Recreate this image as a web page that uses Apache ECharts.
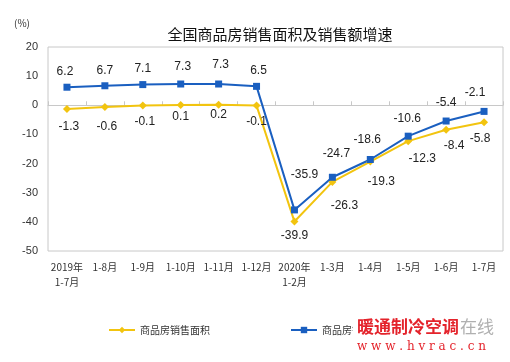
<!DOCTYPE html>
<html><head><meta charset="utf-8">
<script src="https://cdn.jsdelivr.net/npm/echarts@6/dist/echarts.min.js"></script>
<style>html,body{margin:0;padding:0;background:#fff;}#c{width:510px;height:362px;}</style>
</head><body><div id="c"></div>
<script>
const categories = ['2019年\n1-7月','1-8月','1-9月','1-10月','1-11月','1-12月','2020年\n1-2月','1-3月','1-4月','1-5月','1-6月','1-7月'];
const areaGrowth = [-1.3, -0.6, -0.1, 0.1, 0.2, -0.1, -39.9, -26.3, -19.3, -12.3, -8.4, -5.8];
const salesGrowth = [6.2, 6.7, 7.1, 7.3, 7.3, 6.5, -35.9, -24.7, -18.6, -10.6, -5.4, -2.1];
const yTicks = [20, 10, 0, -10, -20, -30, -40, -50];

const blueOffsets = [[-2,0],[0,0],[0,0],[2,-2],[2,-4],[2,0],[10,-20],[4,-8],[-3,-4],[-1,-2],[0,-3],[-9,-3]];
const yellowOffsets = [[2,2],[2,4],[2,0],[0,-4],[0,-6],[0,0],[0,-2],[12,8],[11,4],[14,2],[8,0],[-4,0]];

const chart = echarts.init(document.getElementById('c'));
const lblFont = {fontFamily:'Liberation Sans, Arial, sans-serif', fontSize:12, color:'#222'};
chart.setOption({
  animation:false,
  title:{text:'全国商品房销售面积及销售额增速', left:275, top:22, textAlign:'center',
    textStyle:{fontFamily:'Noto Sans CJK SC', fontSize:15, fontWeight:'normal', color:'#111'}},
  graphic:[
    {type:'text', left:14, top:18, style:{text:'(%)', font:'10px "Noto Sans CJK SC"', fill:'#333'}},
    {type:'rect', shape:{x:353,y:315,width:155,height:42}, style:{fill:'#fff'}, z:100},
    {type:'text', left:357, top:318, z:101, style:{text:'暖通制冷空调', font:'bold 17px "Noto Sans CJK SC"', fill:'#e4232b'}},
    {type:'text', left:460, top:318, z:101, style:{text:'在线', font:'17px "Noto Sans CJK SC"', fill:'#b0b0b0'}},
    {type:'text', left:357, top:341, z:101, style:{text:'w w w . h v r a c . c n', font:'12px "DejaVu Serif"', fill:'#e4232b'}}
  ],
  grid:{left:48, right:7, top:47, bottom:111, show:true, borderColor:'#c8c8c8', borderWidth:1},
  legend:{left:103, top:320, itemGap:80, itemWidth:26, itemHeight:8,
    textStyle:{fontFamily:'Noto Sans CJK SC', fontSize:10, color:'#333'},
    data:['商品房销售面积','商品房销售额']},
  xAxis:{type:'category', data:categories, boundaryGap:true,
    axisLine:{show:true, lineStyle:{color:'#c8c8c8'}},
    axisTick:{show:true, inside:true, length:4, lineStyle:{color:'#c8c8c8'}},
    axisLabel:{interval:0, margin:9, fontFamily:'Noto Sans CJK SC', fontSize:10, color:'#333', lineHeight:15}},
  yAxis:{type:'value', min:-50, max:20, interval:10,
    axisLine:{show:false}, axisTick:{show:false}, splitLine:{show:false},
    axisLabel:{margin:10, fontFamily:'Liberation Sans, Arial', fontSize:11, color:'#333'}},
  series:[
    {name:'商品房销售面积', type:'line', data:areaGrowth.map((v,i)=>({value:v, label:{offset:yellowOffsets[i]}})),
      symbol:'diamond', symbolSize:8, color:'#f2c40f', lineStyle:{width:2, color:'#f2c40f'},
      itemStyle:{color:'#f2c40f'},
      label:{show:true, position:'bottom', distance:6, ...lblFont}},
    {name:'商品房销售额', type:'line', data:salesGrowth.map((v,i)=>({value:v, label:{offset:blueOffsets[i]}})),
      symbol:'rect', symbolSize:7, color:'#1a5fc0', lineStyle:{width:2, color:'#1a5fc0'},
      itemStyle:{color:'#1a5fc0'},
      label:{show:true, position:'top', distance:6, ...lblFont}}
  ]
});
</script></body></html>
